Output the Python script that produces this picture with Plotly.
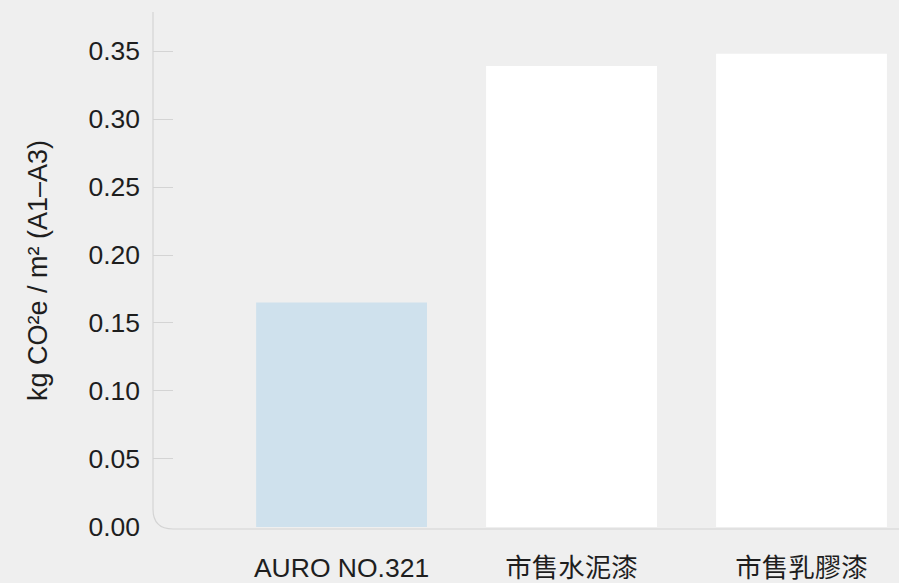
import plotly.graph_objects as go

categories = ["AURO NO.321", "市售水泥漆", "市售乳膠漆"]
values = [0.165, 0.339, 0.348]
bar_colors = ["#cfe1ed", "#ffffff", "#ffffff"]
y_ticks = [0.0, 0.05, 0.10, 0.15, 0.20, 0.25, 0.30, 0.35]
y_tick_text = ["0.00", "0.05", "0.10", "0.15", "0.20", "0.25", "0.30", "0.35"]
y_title = "kg CO²e / m² (A1–A3)"

font_family = "Liberation Sans, Noto Sans CJK TC, sans-serif"
bg = "#efefef"
axis_col = "#d4d4d4"

fig = go.Figure()
fig.add_trace(go.Bar(
    x=categories, y=values, marker=dict(color=bar_colors, line=dict(width=0)),
    hoverinfo="x+y", showlegend=False,
))
# invisible trace on a second y axis to carry the tick marks
fig.add_trace(go.Scatter(x=categories, y=values, yaxis="y2", mode="markers",
                         marker=dict(opacity=0), showlegend=False, hoverinfo="skip"))

y_range = [-0.0015, 0.3787]

fig.update_layout(
    width=899, height=583,
    paper_bgcolor=bg, plot_bgcolor=bg,
    margin=dict(l=153, r=0, t=12, b=54),
    font=dict(family=font_family, color="#1e1e1e", size=24),
    bargap=0.257,
    xaxis=dict(
        range=[-0.82, 2.424], showgrid=False, zeroline=False, showline=False,
        ticks="", ticklabelstandoff=20,
        tickfont=dict(size=26.5, color="#1e1e1e"),
    ),
    yaxis=dict(
        range=y_range, tickvals=y_ticks, ticktext=y_tick_text,
        showgrid=False, zeroline=False, showline=False, ticks="",
        ticklabelstandoff=12,
        tickfont=dict(size=26.5, color="#1e1e1e"),
        title=dict(text=y_title, font=dict(size=27, color="#1e1e1e"), standoff=32),
    ),
    yaxis2=dict(
        range=y_range, overlaying="y", side="left", tickvals=y_ticks[1:],
        showticklabels=False, ticks="inside", ticklen=20, tickwidth=1,
        tickcolor=axis_col, showgrid=False, zeroline=False, showline=False,
    ),
    shapes=[dict(
        type="path", xref="paper", yref="paper",
        path="M 0,1 L 0,%f Q 0,0 %f,0 L 1,0" % (20 / 517, 20 / 746),
        line=dict(color=axis_col, width=1.2), layer="below",
    )],
)

fig.write_html(
    "out.html",
    config={"displayModeBar": False},
    post_script="document.body.style.margin='0';document.body.style.padding='0';",
)
